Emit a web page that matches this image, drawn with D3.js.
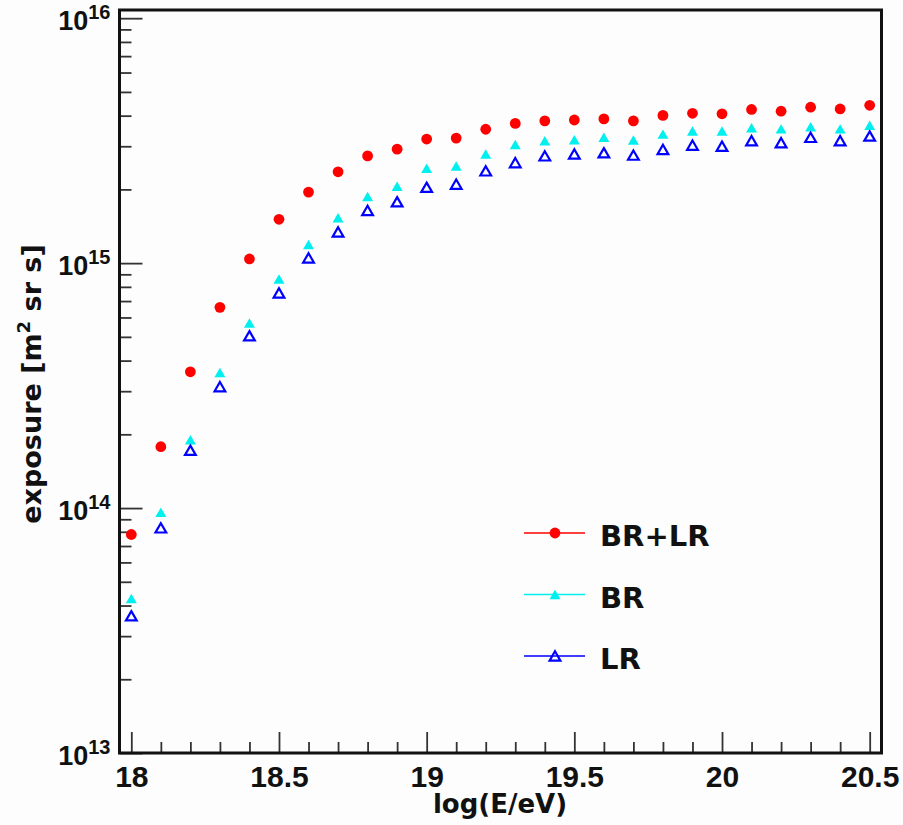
<!DOCTYPE html>
<html>
<head>
<meta charset="utf-8">
<script src="https://cdn.jsdelivr.net/npm/d3@7"></script>
<style>
  body { margin: 0; background: #fcfdfc; }
  svg { display: block; }
</style>
</head>
<body>
<svg width="903" height="825"></svg>
<script>
// log10(E/eV) bins
var logE = [18.0, 18.1, 18.2, 18.3, 18.4, 18.5, 18.6, 18.7, 18.8, 18.9,
            19.0, 19.1, 19.2, 19.3, 19.4, 19.5, 19.6, 19.7, 19.8, 19.9,
            20.0, 20.1, 20.2, 20.3, 20.4, 20.5];

// exposure [m^2 sr s]
var brlr = [7.8e13, 1.78e14, 3.6e14, 6.6e14, 1.04e15, 1.51e15, 1.95e15, 2.36e15, 2.74e15, 2.92e15,
            3.21e15, 3.24e15, 3.52e15, 3.72e15, 3.81e15, 3.84e15, 3.88e15, 3.81e15, 4.01e15, 4.09e15,
            4.07e15, 4.24e15, 4.17e15, 4.33e15, 4.26e15, 4.41e15];
var br   = [4.27e13, 9.6e13, 1.90e14, 3.57e14, 5.69e14, 8.6e14, 1.19e15, 1.53e15, 1.87e15, 2.06e15,
            2.44e15, 2.49e15, 2.79e15, 3.05e15, 3.16e15, 3.19e15, 3.26e15, 3.18e15, 3.36e15, 3.46e15,
            3.46e15, 3.57e15, 3.53e15, 3.60e15, 3.53e15, 3.65e15];
var lr   = [3.63e13, 8.3e13, 1.72e14, 3.13e14, 5.05e14, 7.55e14, 1.05e15, 1.34e15, 1.64e15, 1.78e15,
            2.04e15, 2.10e15, 2.38e15, 2.57e15, 2.74e15, 2.79e15, 2.82e15, 2.76e15, 2.91e15, 3.03e15,
            3.0e15, 3.16e15, 3.10e15, 3.26e15, 3.16e15, 3.30e15];

var seriesNames = ["BR+LR", "BR", "LR"];
var xMajor = [18, 18.5, 19, 19.5, 20, 20.5];
var yMajor = [1e13, 1e14, 1e15, 1e16];

var svg = d3.select("svg");
var padL = 119.5, padR = 881.5, padT = 10, padB = 753;

var x = d3.scaleLinear().domain([17.96, 20.54]).range([padL, padR]);
var y = d3.scaleLog().domain([1e13, 1.08e16]).range([padB, padT]);

var tickColor = "#333";

// minor ticks
var xMinor = d3.range(180, 206).map(function(d) { return d / 10; })
  .filter(function(d) { return xMajor.indexOf(d) < 0; });
var yMinor = [];
[1e13, 1e14, 1e15].forEach(function(p) {
  for (var k = 2; k <= 9; k++) yMinor.push(k * p);
});

var gx = svg.append("g").attr("transform", "translate(0," + padB + ")");
gx.append("g").call(d3.axisBottom(x).tickValues(xMinor).tickSizeInner(-11).tickSizeOuter(0).tickFormat(""));
gx.append("g").call(d3.axisBottom(x).tickValues(xMajor).tickSizeInner(-21).tickSizeOuter(0)
  .tickPadding(13).tickFormat(d3.format("")));
gx.selectAll(".domain").remove();
gx.selectAll(".tick line").attr("stroke", tickColor).attr("stroke-width", 1.8);
gx.selectAll(".tick text")
  .attr("font-family", "Liberation Sans, Arial, sans-serif")
  .attr("font-weight", "bold").attr("font-size", 30).attr("fill", "#111");

var gy = svg.append("g").attr("transform", "translate(" + padL + ",0)");
gy.append("g").call(d3.axisLeft(y).tickValues(yMinor).tickSizeInner(-12).tickSizeOuter(0).tickFormat(""));
gy.append("g").call(d3.axisLeft(y).tickValues(yMajor).tickSizeInner(-23).tickSizeOuter(0)
  .tickPadding(9).tickFormat(""));
gy.selectAll(".domain").remove();
gy.selectAll(".tick line").attr("stroke", tickColor).attr("stroke-width", 1.8);
gy.selectAll(".tick text")
  .filter(function(d) { return yMajor.indexOf(d) >= 0; })
  .attr("font-family", "Liberation Sans, Arial, sans-serif")
  .attr("font-weight", "bold").attr("fill", "#111")
  .attr("font-size", 27).attr("dy", 11)
  .each(function(d) {
    var t = d3.select(this);
    t.append("tspan").text("10");
    t.append("tspan").attr("font-size", 20).attr("dy", -11).text(Math.round(Math.log10(d)));
  });

// frame
svg.append("rect")
  .attr("x", padL).attr("y", padT)
  .attr("width", padR - padL).attr("height", padB - padT)
  .attr("fill", "none").attr("stroke", "#111").attr("stroke-width", 3);

// axis titles
svg.append("text")
  .attr("x", 500).attr("y", 813)
  .attr("text-anchor", "middle")
  .attr("font-family", "DejaVu Sans, sans-serif").attr("font-weight", "bold")
  .attr("font-size", 26).attr("fill", "#111")
  .text("log(E/eV)");

var yt = svg.append("text")
  .attr("transform", "translate(41,384) rotate(-90)")
  .attr("text-anchor", "middle")
  .attr("font-family", "DejaVu Sans, sans-serif").attr("font-weight", "bold")
  .attr("font-size", 27).attr("fill", "#111");
yt.append("tspan").text("exposure [m");
yt.append("tspan").attr("font-size", 18).attr("dy", -11).text("2");
yt.append("tspan").attr("dy", 11).text(" sr s]");

// markers
var circle = d3.symbol().type(d3.symbolCircle).size(Math.PI * 29);
var tri = d3.symbol().type(d3.symbolTriangle).size(52);
var triOpen = d3.symbol().type(d3.symbolTriangle).size(50);

function drawSeries(values, path, fill, stroke, sw, dy) {
  svg.append("g").selectAll("path")
    .data(values)
    .enter().append("path")
    .attr("d", path)
    .attr("transform", function(d, i) {
      return "translate(" + x(logE[i]) + "," + (y(d) + dy) + ")";
    })
    .attr("fill", fill)
    .attr("stroke", stroke)
    .attr("stroke-width", sw);
}

drawSeries(brlr, circle, "#ff0000", "none", 0, 0);
drawSeries(br, tri, "#00f0f0", "none", 0, 1.5);
drawSeries(lr, triOpen, "none", "#0000ff", 2.2, 1.5);

// legend
var legend = [
  {name: seriesNames[0], color: "#ff0000", path: circle, fill: "#ff0000", stroke: "none"},
  {name: seriesNames[1], color: "#00f0f0", path: tri, fill: "#00f0f0", stroke: "none"},
  {name: seriesNames[2], color: "#0000ff", path: triOpen, fill: "none", stroke: "#0000ff"}
];
var lg = svg.append("g").selectAll("g")
  .data(legend)
  .enter().append("g")
  .attr("transform", function(d, i) { return "translate(0," + (533 + i * 61.5) + ")"; });

lg.append("line")
  .attr("x1", 524).attr("x2", 585)
  .attr("stroke", function(d) { return d.color; })
  .attr("stroke-width", 1.5);
lg.append("path")
  .attr("d", function(d) { return d.path(); })
  .attr("transform", function(d, i) { return "translate(555," + (i ? 1.5 : 0) + ")"; })
  .attr("fill", function(d) { return d.fill; })
  .attr("stroke", function(d) { return d.stroke; })
  .attr("stroke-width", 2.2);
lg.append("text")
  .attr("x", 600).attr("y", 13)
  .attr("font-family", "DejaVu Sans, sans-serif").attr("font-weight", "bold")
  .attr("font-size", 29).attr("fill", "#111")
  .text(function(d) { return d.name; });
</script>
</body>
</html>
